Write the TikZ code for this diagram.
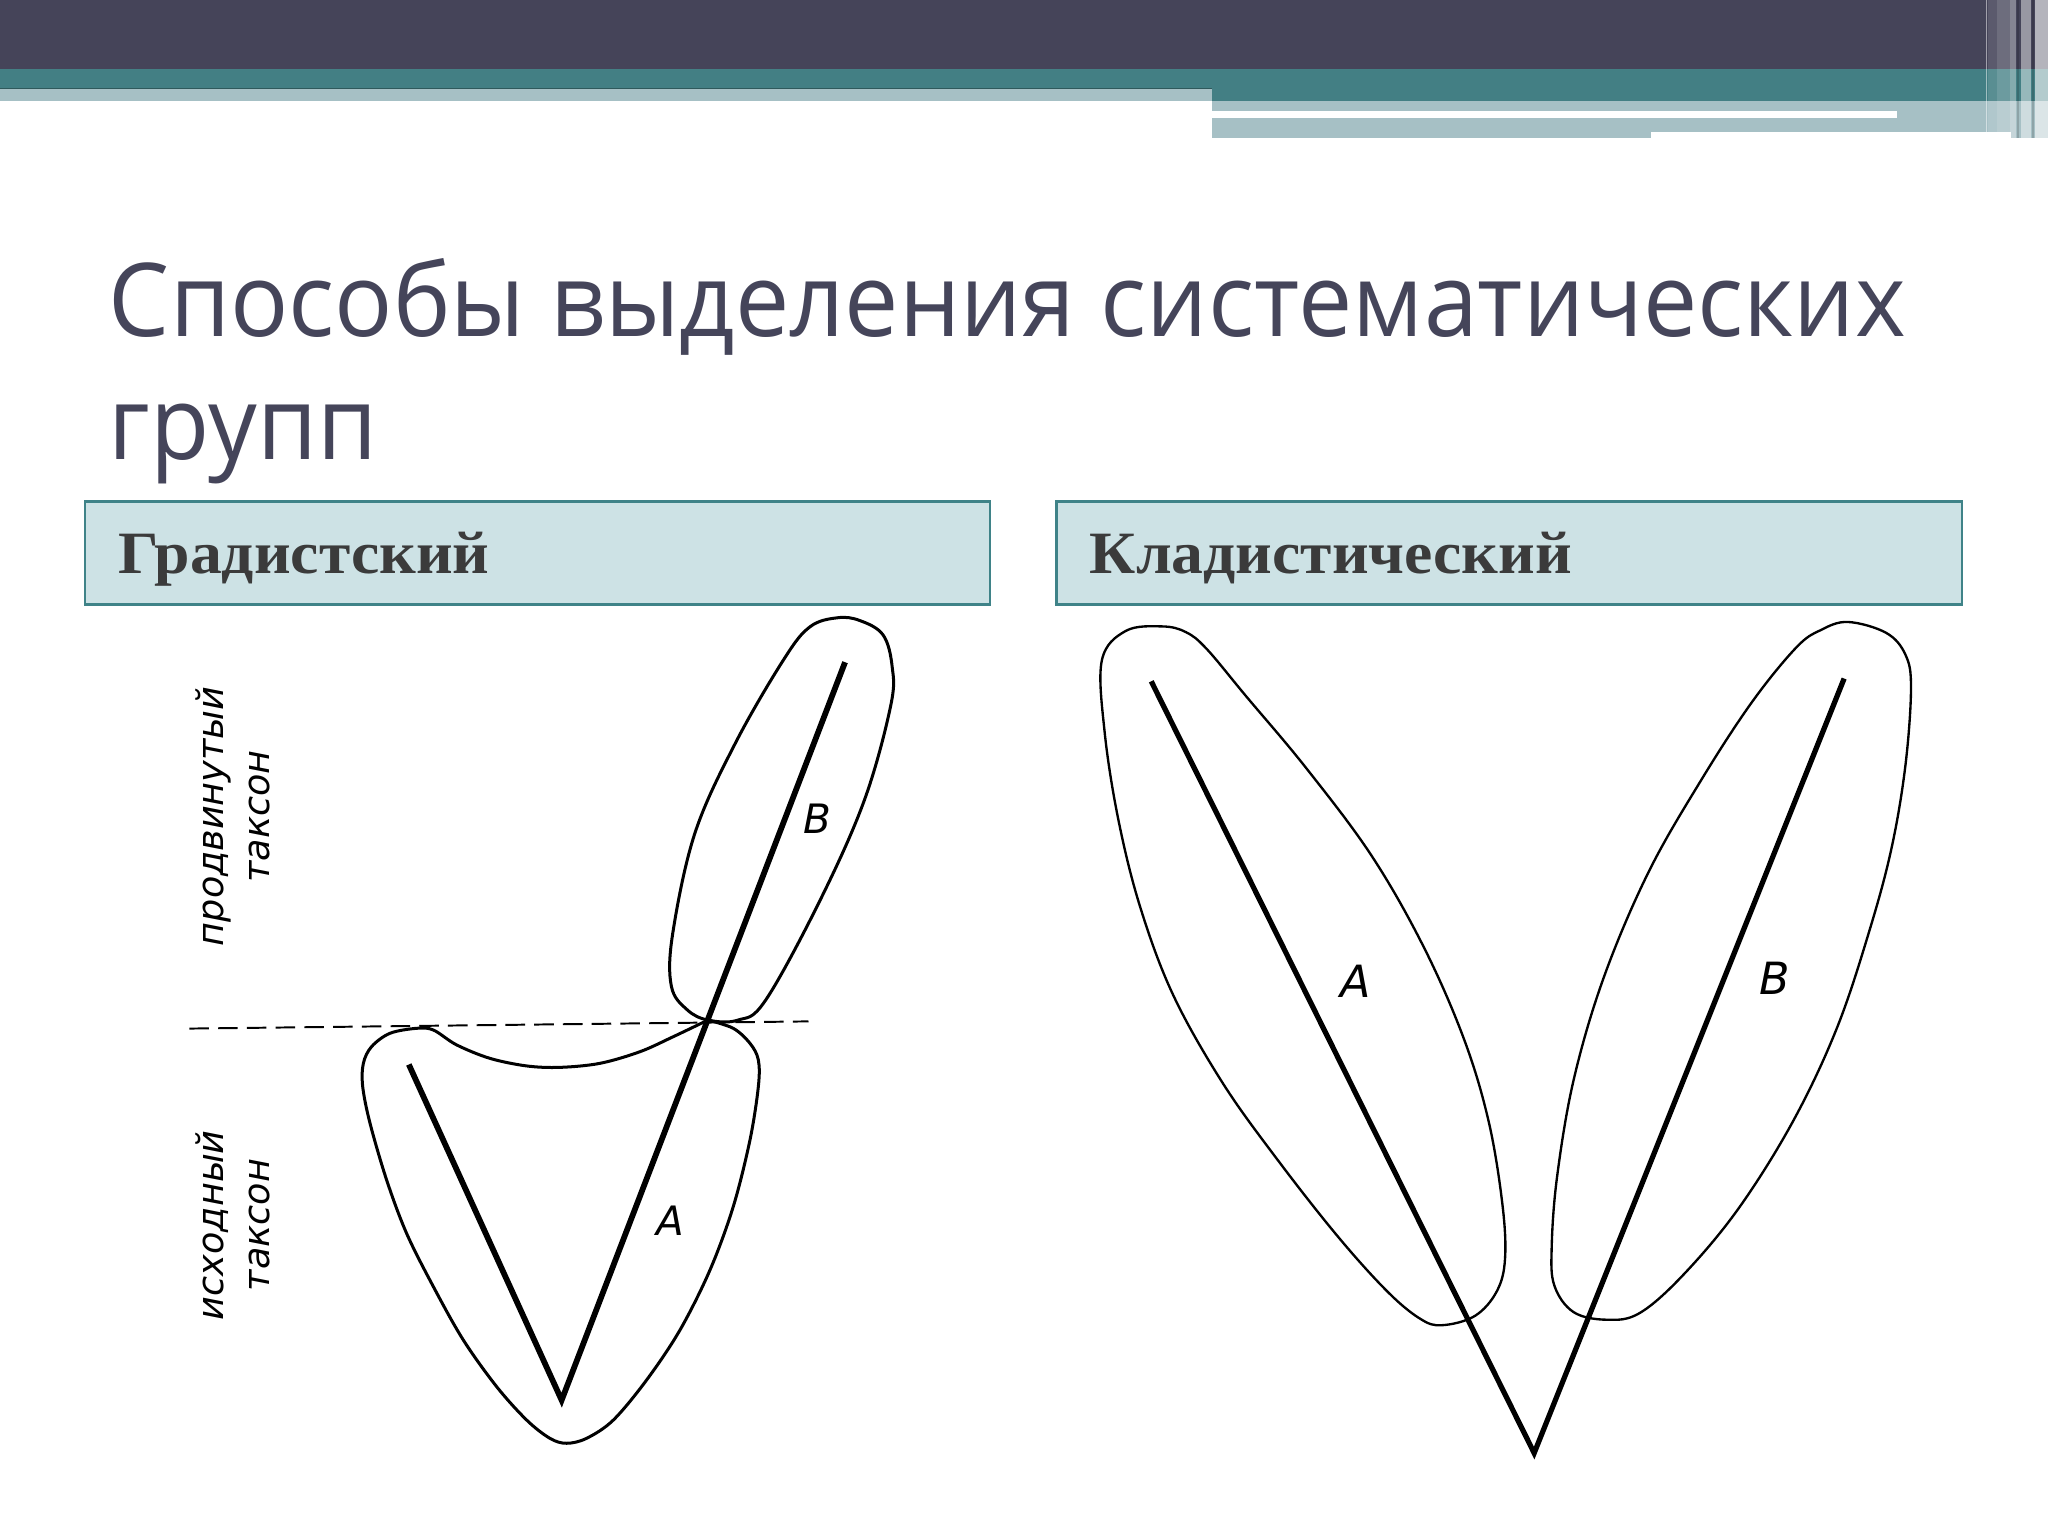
\documentclass[tikz,border=0pt]{standalone}
\usepackage{fontspec}
\setmainfont{Open Sans}
\newfontfamily\titlefont[FakeStretch=0.95]{Open Sans}
\newfontfamily\headfont[FakeStretch=1.06]{Liberation Serif}
\newfontfamily\handfont{DejaVu Sans}
\definecolor{bardark}{HTML}{454459}
\definecolor{barteal}{HTML}{437F84}
\definecolor{barlight}{HTML}{A6C0C5}
\definecolor{titlecol}{HTML}{45455A}
\definecolor{headfill}{HTML}{CDE2E5}
\definecolor{headdraw}{HTML}{3F8388}
\definecolor{headtext}{HTML}{3B3B3B}
\tikzset{
  titletext/.style={inner sep=0pt, text=titlecol, font=\titlefont\fontsize{39}{47}\selectfont},
  headbox/.style={fill=headfill, draw=headdraw, line width=1pt},
  headlabel/.style={inner sep=0pt, text=headtext, font=\headfont\bfseries\fontsize{23}{27}\selectfont},
  thickline/.style={line width=2.2pt, black},
  outlineL/.style={line width=1.15pt, black},
  outlineR/.style={line width=0.9pt, black},
  dashline/.style={line width=0.75pt, black, dash pattern=on 7.5pt off 3.5pt},
  rotlabel/.style={inner sep=0pt, rotate=90, align=center, font=\handfont\itshape\fontsize{14}{17.5}\selectfont},
  letterlabel/.style={inner sep=0pt, font=\handfont\itshape\fontsize{15.5}{18}\selectfont},
  letterlabelR/.style={inner sep=0pt, font=\handfont\itshape\fontsize{17}{20}\selectfont},
}
\begin{document}
\begin{tikzpicture}[x=0.5pt,y=-0.5pt]
\useasboundingbox (0,0) rectangle (1568,1176);
\fill[white] (0,0) rectangle (1568,1176);
% top bars
\fill[bardark] (0,0) rectangle (1568,53);
\fill[barteal] (0,53) rectangle (1568,77);
\fill[barlight] (0,68) rectangle (928,77);
\fill[barteal!70!black] (0,67.2) rectangle (928,68.2);
\fill[barlight] (928,77) rectangle (1568,106);
\fill[white] (928,85) rectangle (1452,90);
\fill[white] (1264,100.8) rectangle (1540,106);
% right stripes
\fill[white, opacity=0.5] (1520.5,0) rectangle (1521.5,106);
\fill[white, opacity=0.12] (1522,0) rectangle (1529,106);
\fill[white, opacity=0.22] (1529,0) rectangle (1539,106);
\fill[white, opacity=0.35] (1539,0) rectangle (1543.5,106);
\fill[black, opacity=0.15] (1544,0) rectangle (1545.5,106);
\fill[white, opacity=0.45] (1547,0) rectangle (1555,106);
\fill[black, opacity=0.15] (1556,0) rectangle (1557.5,106);
\fill[white, opacity=0.6] (1558,0) rectangle (1568,106);
% title
\node[titletext, anchor=base west] (title1) at (83,257.7) {Способы выделения систематических};
\node[titletext, anchor=base west] (title2) at (83,352) {групп};
% header boxes
\coordinate (h1a) at (65,384); \coordinate (h1b) at (758,463);
\coordinate (h2a) at (809,384); \coordinate (h2b) at (1502,463);
\draw[headbox] (h1a) rectangle (h1b);
\draw[headbox] (h2a) rectangle (h2b);
\node[headlabel, anchor=base west] (h1t) at (90,439) {Градистский};
\node[headlabel, anchor=base west] (h2t) at (834,439) {Кладистический};
% ---------- left diagram ----------
\coordinate (apexL) at (430,1072);
\coordinate (armL) at (313,815);
\coordinate (topB) at (647,507);
\coordinate (J) at (542,781);
\coordinate (dashS) at (145,787.5);
\coordinate (dashE) at (619,782);
\draw[dashline] (dashS) -- (dashE);
\draw[thickline] (armL) -- (apexL) -- (topB);
% upper lobe B
\draw[outlineL] plot[smooth cycle, tension=0.6] coordinates {
 (J) (565,781) (586,766) (628,689) (662,612) (682,540) (683,510) (676,486) (658,475) (641,473)
 (620,480) (600,505) (563,569) (532,638) (515,715) (514,755) (526,773)};
% lower shape A
\draw[outlineL] plot[smooth, tension=0.55] coordinates {
 (J) (561.4,787.3) (574.2,798.8) (580.6,811.5) (580.6,832) (574.2,872.8) (561.4,923.8) (543.6,972.3)
 (520.6,1018.3) (495.1,1056.5) (469.6,1087.2) (449.1,1101.2) (433.8,1105) (421,1101.2) (403.2,1087.2)
 (380.2,1061.6) (354.7,1025.9) (331.8,985.1) (311.3,944.3) (296,903.4) (283.3,860) (277.7,832)
 (278.2,814.1) (284.5,801.3) (298.6,791.1) (319,787.3)
 (331.8,788.6) (349.6,800) (375.1,810.3) (403.2,816.1) (428.7,817.2) (459.4,814.1) (490,805.2)
 (515.5,793.7) (J)};
\node[letterlabel] (lblB) at (626,626.5) {B};
\node[letterlabel] (lblA) at (513.6,935) {A};
\node[rotlabel] (adv) at (178.5,625) {продвинутый\\таксон};
\node[rotlabel] (orig) at (178.5,938) {исходный\\таксон};
% ---------- right diagram ----------
\coordinate (apexR) at (1174.6,1112.5);
\coordinate (topA) at (881.4,521.6);
\coordinate (topBR) at (1411.9,519.5);
\draw[thickline, line width=2pt] (topA) -- (apexR) -- (topBR);
\draw[outlineR] plot[smooth cycle, tension=0.6] coordinates {
 (843.6,505.6) (845.7,560.2) (856.2,627.4) (873,694.6) (898.2,761.8) (936,829) (978,887.8)
 (1024.2,946.6) (1062,988.6) (1087.2,1009.6) (1104,1014.6) (1129.2,1007.5) (1146,988.6)
 (1152.3,963.4) (1150.2,921.4) (1139.7,858.4) (1120.8,795.4) (1090,725) (1050,655)
 (1000,588) (954,533) (924,497) (908,484) (889.8,479.6) (862,483)};
\draw[outlineR] plot[smooth cycle, tension=0.6] coordinates {
 (1414.8,476.2) (1444.2,484.6) (1458.9,501.4) (1463.1,526.6) (1458.9,585.4) (1448.4,648.4)
 (1431.6,711.4) (1406.4,787) (1372.8,858.4) (1330.8,925.6) (1288.8,976) (1255.2,1005.4)
 (1230,1010.4) (1204.8,1004.6) (1190.1,984.4) (1188,955) (1192.2,900.4) (1205,826)
 (1228,748) (1262,668) (1302,598) (1341,538) (1375,496) (1393.8,482.5)};
\node[letterlabelR] (lblAR) at (1038,751) {A};
\node[letterlabelR] (lblBR) at (1359,749) {B};
\end{tikzpicture}
\end{document}
